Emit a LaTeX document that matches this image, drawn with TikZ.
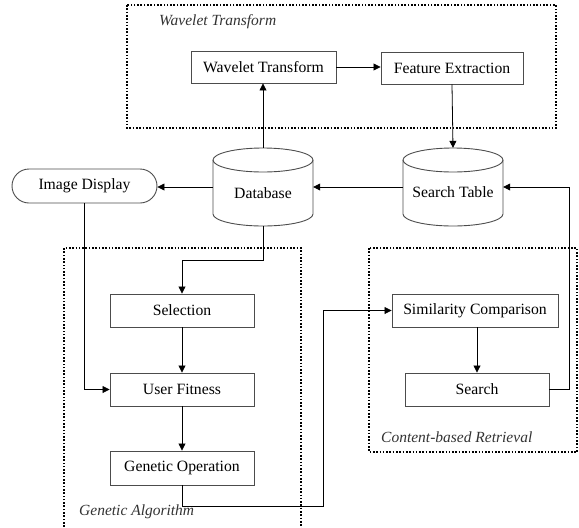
\documentclass[tikz,border=0pt]{standalone}
\usepackage{fontspec}
\setmainfont{Liberation Serif}
\usetikzlibrary{arrows.meta,calc}
\newcommand\drawcyl[2]{%
  \draw[cylline] (#1-50,#2-27) -- (#1-50,#2+27) arc[start angle=180,end angle=0,x radius=50,y radius=12] -- (#1+50,#2-27);
  \draw[cylline] (#1,#2-27) ellipse[x radius=50,y radius=12];}
\begin{document}
\begin{tikzpicture}[x=1pt,y=-1pt,
  txt/.style={font=\fontsize{15.7}{18}\selectfont, inner sep=0pt},
  itl/.style={font=\fontsize{15.5}{18}\selectfont\itshape, text=black!80, inner sep=0pt, anchor=west},
  box/.style={draw=black!70, line width=0.9pt, minimum height=33pt, inner sep=0pt, font=\fontsize{15.7}{18}\selectfont},
  cylnode/.style={minimum width=100pt, minimum height=78pt, inner sep=0pt},
  cylline/.style={draw=black!70, line width=0.9pt},
  frame/.style={draw=black, line width=2pt, dash pattern=on 1.6pt off 1.7pt},
  conn/.style={draw=black, line width=0.8pt, -{Triangle[length=7pt,width=7pt]}},
  plain/.style={draw=black, line width=0.8pt}
]
\useasboundingbox (0,0) rectangle (579,528);
% frames
\draw[frame] (127,5) rectangle (556,128);
\draw[frame] (64,540) -- (64,248) -- (301,248) -- (301,540);
\draw[frame] (369,248) rectangle (577,452);
\node[itl] (lwt) at (159,22) {Wavelet Transform};
\node[itl] (lga) at (79,512) {Genetic Algorithm};
\node[itl] (lcbr) at (381,437) {Content-based Retrieval};
% boxes
\node[box, minimum width=145pt, minimum height=32pt] (wt) at (263.5,67) {Wavelet Transform};
\node[box, minimum width=142pt, minimum height=32pt] (fe) at (452,68) {Feature Extraction};
\node[box, minimum width=144pt] (sel) at (182,310.5) {Selection};
\node[box, minimum width=144pt] (uf) at (182,389.5) {User Fitness};
\node[box, minimum width=144pt, minimum height=34pt] (go) at (182,468) {Genetic Operation};
\node[box, minimum width=166pt] (sc) at (475,310.5) {Similarity Comparison};
\node[box, minimum width=144pt] (se) at (477,389.5) {Search};
\node[box, minimum width=145pt, minimum height=34pt, rounded corners=17pt] (id) at (84.5,186) {Image Display};
% cylinders
\drawcyl{263}{187}
\drawcyl{453}{187}
\node[cylnode] (db) at (263,187) {};
\node[cylnode] (st) at (453,187) {};
\node[txt] (dbt) at (263,193) {Database};
\node[txt] (stt) at (453,192) {Search Table};
% connectors
\draw[conn] (db.north) -- (db.north |- wt.south);
\draw[conn] (wt.east) -- (fe.west |- wt.east);
\draw[conn] (fe.south) -- (st.north);
\draw[conn] (st.west) -- (db.east);
\draw[conn] (db.west) -- (id.east |- db.west);
\draw[conn] (id.south) |- (uf.west);
\draw[conn] (db.south) -- (263,260) -| (sel.north);
\draw[conn] (sel.south) -- (uf.north);
\draw[conn] (uf.south) -- (go.north);
\draw[conn] (go.south) -- (182,506) -| (323,310.5) -- (sc.west);
\draw[conn] (se.north |- sc.south) -- (se.north);
\draw[conn] (se.east) -- (569,389.5) |- (st.east);
\end{tikzpicture}
\end{document}
